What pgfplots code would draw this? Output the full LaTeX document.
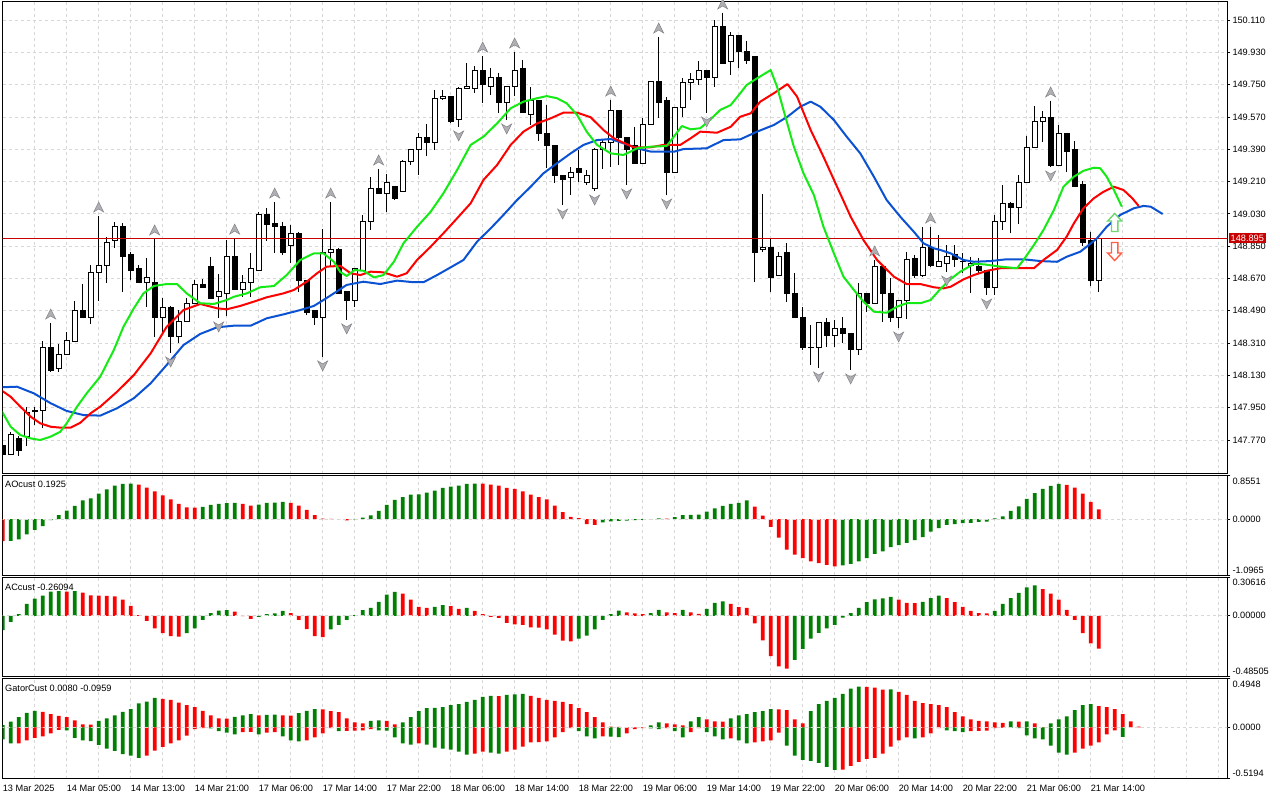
\documentclass[border=0pt]{standalone}
\usepackage{fontspec}
\setmainfont{Liberation Sans}
\usepackage{pgfplots}
\pgfplotsset{compat=1.18}
\usepgfplotslibrary{statistics}
\definecolor{jaw}{RGB}{10,82,210}
\definecolor{teeth}{RGB}{255,0,0}
\definecolor{lips}{RGB}{20,235,20}
\definecolor{histg}{RGB}{0,128,0}
\definecolor{histr}{RGB}{255,0,0}
\definecolor{gridc}{RGB}{215,215,215}
\definecolor{pricered}{RGB}{200,0,0}
\definecolor{fracfill}{RGB}{175,175,180}
\definecolor{fracdraw}{RGB}{130,130,135}
\newcommand{\tf}{\fontsize{9.2}{11}\selectfont}
\pgfdeclareplotmark{fracup}{%
 \pgfpathmoveto{\pgfqpoint{0pt}{5pt}}%
 \pgfpathlineto{\pgfqpoint{5pt}{-5pt}}%
 \pgfpathlineto{\pgfqpoint{0pt}{-2pt}}%
 \pgfpathlineto{\pgfqpoint{-5pt}{-5pt}}%
 \pgfpathclose\pgfusepathqfillstroke}
\pgfdeclareplotmark{fracdn}{%
 \pgfpathmoveto{\pgfqpoint{0pt}{-5pt}}%
 \pgfpathlineto{\pgfqpoint{5pt}{5pt}}%
 \pgfpathlineto{\pgfqpoint{0pt}{2pt}}%
 \pgfpathlineto{\pgfqpoint{-5pt}{5pt}}%
 \pgfpathclose\pgfusepathqfillstroke}
\pgfdeclareplotmark{sigup}{%
 \pgfpathmoveto{\pgfqpoint{0pt}{9pt}}%
 \pgfpathlineto{\pgfqpoint{7pt}{1.5pt}}%
 \pgfpathlineto{\pgfqpoint{3.2pt}{1.5pt}}%
 \pgfpathlineto{\pgfqpoint{3.2pt}{-9pt}}%
 \pgfpathlineto{\pgfqpoint{-3.2pt}{-9pt}}%
 \pgfpathlineto{\pgfqpoint{-3.2pt}{1.5pt}}%
 \pgfpathlineto{\pgfqpoint{-7pt}{1.5pt}}%
 \pgfpathclose\pgfusepathqfillstroke}
\pgfdeclareplotmark{sigdn}{%
 \pgfpathmoveto{\pgfqpoint{0pt}{-9pt}}%
 \pgfpathlineto{\pgfqpoint{7pt}{-1.5pt}}%
 \pgfpathlineto{\pgfqpoint{3.2pt}{-1.5pt}}%
 \pgfpathlineto{\pgfqpoint{3.2pt}{9pt}}%
 \pgfpathlineto{\pgfqpoint{-3.2pt}{9pt}}%
 \pgfpathlineto{\pgfqpoint{-3.2pt}{-1.5pt}}%
 \pgfpathlineto{\pgfqpoint{-7pt}{-1.5pt}}%
 \pgfpathclose\pgfusepathqfillstroke}
\pgfplotsset{
 mt/.style={
  scale only axis, anchor=north west, width=1224.8pt,
  xmin=-0.02, xmax=153.08,
  axis line style={black, line width=1pt},
  xtick={0,4,...,152}, xticklabels={}, xtick style={draw=none},
  xmajorgrids,
  grid style={gridc, dash pattern=on 3pt off 3pt, line width=0.8pt},
  ytick pos=right, yticklabel pos=right, tick align=outside,
  major tick length=3pt,
  ytick style={black, line width=0.8pt},
  yticklabel style={font=\tf, anchor=west, inner sep=0pt, xshift=2pt},
  clip=true,
 },
 gbar/.style={ybar, bar width=0.47, bar shift=0pt, draw=none, fill=histg},
 rbar/.style={ybar, bar width=0.47, bar shift=0pt, draw=none, fill=histr},
 zline/.style={gridc, dash pattern=on 3pt off 3pt, line width=0.8pt},
 bullc/.style={draw=black, fill=white, line width=1pt, solid},
 bearc/.style={draw=black, fill=black, line width=1pt, solid},
}
\newcommand{\cbu}[5]{\addplot[bullc, boxplot prepared={draw position=#1, lower whisker=#2, lower quartile=#3, median=#3, upper quartile=#4, upper whisker=#5}] coordinates {};}
\newcommand{\cbe}[5]{\addplot[bearc, boxplot prepared={draw position=#1, lower whisker=#2, lower quartile=#3, median=#3, upper quartile=#4, upper whisker=#5}] coordinates {};}
\begin{document}
\begin{tikzpicture}
\path[use as bounding box] (0,0) rectangle (1280pt,-800pt);
\fill[white] (0,0) rectangle (1280pt,-800pt);
% ================= MAIN PRICE PANEL =================
\begin{axis}[mt, at={(2.5pt,-1.5pt)}, height=472pt,
  ymin=147.5835, ymax=150.2130, ymajorgrids,
  ytick={147.77,147.95,148.13,148.31,148.49,148.67,148.85,149.03,149.21,149.39,149.57,149.75,149.93,150.11},
  yticklabels={147.770,147.950,148.130,148.310,148.490,148.670,148.850,149.030,149.210,149.390,149.570,149.750,149.930,150.110},
  boxplot/draw direction=y, boxplot/box extend=0.6, boxplot/whisker extend=0]
\cbe{0}{147.681}{147.687}{147.737}{147.753}
\cbu{1}{147.687}{147.692}{147.798}{147.815}
\cbe{2}{147.681}{147.709}{147.776}{147.792}
\cbu{3}{147.737}{147.787}{147.926}{147.954}
\cbu{4}{147.854}{147.930}{147.932}{147.954}
\cbu{5}{147.837}{147.932}{148.288}{148.321}
\cbe{6}{148.149}{148.160}{148.288}{148.422}
\cbu{7}{148.149}{148.166}{148.244}{148.305}
\cbu{8}{148.244}{148.244}{148.327}{148.372}
\cbu{9}{148.316}{148.321}{148.489}{148.545}
\cbe{10}{148.455}{148.455}{148.489}{148.639}
\cbu{11}{148.416}{148.455}{148.701}{148.745}
\cbu{12}{148.545}{148.701}{148.745}{149.018}
\cbu{13}{148.645}{148.745}{148.873}{148.901}
\cbu{14}{148.840}{148.879}{148.962}{148.985}
\cbe{15}{148.595}{148.790}{148.962}{148.979}
\cbe{16}{148.661}{148.717}{148.801}{148.817}
\cbe{17}{148.645}{148.645}{148.723}{148.745}
\cbu{18}{148.511}{148.650}{148.673}{148.784}
\cbe{19}{148.344}{148.450}{148.650}{148.890}
\cbu{20}{148.355}{148.455}{148.511}{148.561}
\cbe{21}{148.255}{148.344}{148.511}{148.517}
\cbu{22}{148.310}{148.349}{148.433}{148.494}
\cbu{23}{148.433}{148.433}{148.528}{148.561}
\cbu{24}{148.528}{148.528}{148.639}{148.661}
\cbe{25}{148.617}{148.617}{148.639}{148.667}
\cbe{26}{148.561}{148.561}{148.739}{148.790}
\cbu{27}{148.450}{148.567}{148.600}{148.695}
\cbu{28}{148.461}{148.589}{148.790}{148.884}
\cbe{29}{148.606}{148.606}{148.790}{148.895}
\cbu{30}{148.567}{148.606}{148.645}{148.689}
\cbu{31}{148.567}{148.645}{148.723}{148.812}
\cbu{32}{148.717}{148.717}{149.029}{149.040}
\cbe{33}{148.879}{148.968}{149.029}{149.063}
\cbe{34}{148.812}{148.957}{148.979}{149.096}
\cbe{35}{148.801}{148.817}{148.957}{148.985}
\cbu{36}{148.756}{148.851}{148.918}{148.968}
\cbe{37}{148.595}{148.656}{148.923}{148.929}
\cbe{38}{148.466}{148.483}{148.661}{148.661}
\cbe{39}{148.411}{148.450}{148.494}{148.494}
\cbu{40}{148.233}{148.450}{148.812}{148.946}
\cbu{41}{148.734}{148.812}{148.829}{149.096}
\cbe{42}{148.589}{148.589}{148.829}{148.840}
\cbe{43}{148.439}{148.550}{148.595}{148.595}
\cbu{44}{148.511}{148.550}{148.723}{148.728}
\cbu{45}{148.717}{148.717}{148.985}{149.024}
\cbu{46}{148.940}{148.985}{149.174}{149.235}
\cbe{47}{149.146}{149.146}{149.174}{149.280}
\cbu{48}{149.040}{149.146}{149.202}{149.252}
\cbe{49}{149.107}{149.118}{149.180}{149.180}
\cbu{50}{149.152}{149.152}{149.324}{149.330}
\cbu{51}{149.302}{149.319}{149.391}{149.391}
\cbu{52}{149.246}{149.391}{149.458}{149.480}
\cbe{53}{149.352}{149.425}{149.458}{149.530}
\cbu{54}{149.386}{149.425}{149.670}{149.720}
\cbu{55}{149.664}{149.670}{149.681}{149.720}
\cbe{56}{149.536}{149.547}{149.686}{149.686}
\cbu{57}{149.514}{149.553}{149.731}{149.737}
\cbu{58}{149.731}{149.731}{149.737}{149.870}
\cbu{59}{149.703}{149.731}{149.826}{149.854}
\cbe{60}{149.648}{149.748}{149.831}{149.909}
\cbu{61}{149.692}{149.742}{149.787}{149.843}
\cbe{62}{149.592}{149.648}{149.787}{149.815}
\cbu{63}{149.553}{149.648}{149.742}{149.742}
\cbu{64}{149.686}{149.737}{149.831}{149.932}
\cbe{65}{149.592}{149.592}{149.837}{149.887}
\cbu{66}{149.525}{149.586}{149.664}{149.737}
\cbe{67}{149.436}{149.480}{149.664}{149.664}
\cbe{68}{149.285}{149.413}{149.480}{149.636}
\cbe{69}{149.202}{149.241}{149.413}{149.413}
\cbe{70}{149.079}{149.224}{149.246}{149.246}
\cbu{71}{149.135}{149.235}{149.263}{149.291}
\cbe{72}{149.207}{149.263}{149.280}{149.386}
\cbu{73}{149.191}{149.207}{149.241}{149.274}
\cbu{74}{149.157}{149.174}{149.386}{149.397}
\cbu{75}{149.280}{149.386}{149.430}{149.441}
\cbu{76}{149.291}{149.430}{149.603}{149.664}
\cbe{77}{149.302}{149.458}{149.603}{149.603}
\cbe{78}{149.191}{149.386}{149.458}{149.458}
\cbe{79}{149.313}{149.313}{149.413}{149.514}
\cbu{80}{149.313}{149.313}{149.530}{149.564}
\cbu{81}{149.530}{149.530}{149.765}{149.765}
\cbe{82}{149.564}{149.653}{149.765}{150.015}
\cbe{83}{149.135}{149.263}{149.659}{149.681}
\cbu{84}{149.263}{149.263}{149.625}{149.625}
\cbu{85}{149.569}{149.625}{149.759}{149.787}
\cbu{86}{149.664}{149.759}{149.776}{149.815}
\cbu{87}{149.748}{149.776}{149.826}{149.882}
\cbe{88}{149.592}{149.787}{149.826}{149.831}
\cbu{89}{149.737}{149.787}{150.076}{150.110}
\cbe{90}{149.870}{149.870}{150.076}{150.149}
\cbu{91}{149.804}{149.876}{150.026}{150.043}
\cbe{92}{149.843}{149.932}{150.026}{150.026}
\cbe{93}{149.865}{149.882}{149.937}{149.993}
\cbe{94}{148.650}{148.817}{149.904}{149.904}
\cbu{95}{148.817}{148.829}{148.840}{149.141}
\cbe{96}{148.595}{148.678}{148.840}{148.895}
\cbu{97}{148.684}{148.684}{148.795}{148.817}
\cbe{98}{148.539}{148.584}{148.817}{148.868}
\cbe{99}{148.450}{148.450}{148.589}{148.701}
\cbe{100}{148.272}{148.288}{148.450}{148.511}
\cbe{101}{148.188}{148.286}{148.288}{148.411}
\cbu{102}{148.171}{148.288}{148.422}{148.422}
\cbe{103}{148.288}{148.355}{148.422}{148.450}
\cbu{104}{148.288}{148.355}{148.389}{148.439}
\cbe{105}{148.310}{148.361}{148.389}{148.455}
\cbe{106}{148.160}{148.272}{148.366}{148.366}
\cbu{107}{148.244}{148.272}{148.589}{148.645}
\cbe{108}{148.483}{148.533}{148.584}{148.584}
\cbu{109}{148.528}{148.533}{148.739}{148.773}
\cbe{110}{148.428}{148.589}{148.739}{148.739}
\cbe{111}{148.428}{148.450}{148.589}{148.673}
\cbu{112}{148.394}{148.450}{148.550}{148.550}
\cbu{113}{148.444}{148.550}{148.773}{148.817}
\cbe{114}{148.673}{148.689}{148.784}{148.801}
\cbu{115}{148.678}{148.689}{148.845}{148.957}
\cbe{116}{148.734}{148.745}{148.845}{148.957}
\cbu{117}{148.734}{148.739}{148.762}{148.912}
\cbu{118}{148.706}{148.756}{148.795}{148.856}
\cbe{119}{148.734}{148.778}{148.801}{148.856}
\cbu{120}{148.700}{148.762}{148.767}{148.812}
\cbu{121}{148.589}{148.745}{148.756}{148.790}
\cbe{122}{148.700}{148.712}{148.734}{148.784}
\cbe{123}{148.578}{148.617}{148.712}{148.717}
\cbu{124}{148.578}{148.617}{148.985}{149.024}
\cbu{125}{148.940}{148.990}{149.085}{149.191}
\cbe{126}{148.923}{149.068}{149.090}{149.096}
\cbu{127}{148.974}{149.068}{149.207}{149.246}
\cbu{128}{149.202}{149.207}{149.402}{149.464}
\cbu{129}{149.397}{149.402}{149.547}{149.631}
\cbu{130}{149.430}{149.542}{149.564}{149.603}
\cbe{131}{149.291}{149.297}{149.564}{149.659}
\cbu{132}{149.297}{149.297}{149.475}{149.525}
\cbe{133}{149.264}{149.375}{149.480}{149.480}
\cbe{134}{149.185}{149.185}{149.386}{149.436}
\cbe{135}{148.851}{148.873}{149.191}{149.213}
\cbe{136}{148.628}{148.656}{148.879}{148.929}
\cbu{137}{148.595}{148.656}{148.895}{148.895}
% current price line
\addplot[pricered, line width=0.8pt] coordinates {(-1,148.895) (160,148.895)};
% Alligator jaw (blue)
\addplot[jaw, line width=2pt, line join=round] coordinates {(-0.1,148.064)(1.8,148.067)(3.9,148.030)(6,147.975)(8,147.932)(10.1,147.909)(12.2,147.906)(14.3,147.947)(16.4,148.003)(18.5,148.086)(20.5,148.188)(22.6,148.299)(24.7,148.361)(26.8,148.398)(28.9,148.407)(31,148.407)(33,148.448)(35.1,148.470)(37.2,148.494)(38.9,148.517)(40.1,148.550)(41.4,148.587)(43,148.634)(45.1,148.652)(47.2,148.639)(49.3,148.658)(51.4,148.649)(52.6,148.649)(54.3,148.689)(56,148.732)(57.6,148.773)(59.3,148.875)(61,148.949)(62.6,149.024)(64.3,149.107)(66,149.181)(67.6,149.256)(69.3,149.312)(71,149.367)(72.6,149.414)(74.3,149.441)(76,149.447)(77.6,149.423)(79.3,149.395)(81,149.377)(83.9,149.376)(85.1,149.391)(88,149.395)(90.1,149.441)(92.2,149.445)(94.3,149.488)(96.4,149.525)(98.1,149.571)(99.7,149.627)(101,149.655)(102.2,149.627)(103.9,149.553)(105.5,149.460)(107.2,149.367)(108.9,149.237)(110.5,149.107)(112.2,149.014)(113.9,148.930)(115.1,148.866)(116.4,148.838)(117.2,148.829)(118.5,148.810)(120.1,148.773)(121.4,148.763)(123.5,148.767)(125.5,148.777)(127.6,148.777)(129.7,148.767)(131.8,148.763)(133,148.791)(134.7,148.819)(135.5,148.847)(136.8,148.894)(138,148.958)(139.7,149.024)(141.4,149.061)(142.6,149.074)(143.5,149.070)(145,149.029)};
% Alligator teeth (red)
\addplot[teeth, line width=2pt, line join=round] coordinates {(-0.1,148.045)(1,148.011)(2.2,147.956)(3.5,147.900)(4.7,147.863)(6,147.844)(7.2,147.839)(8.5,147.839)(9.7,147.866)(11,147.919)(12.2,147.956)(14.3,148.039)(16.4,148.132)(18.5,148.253)(20.5,148.401)(22.6,148.494)(24.7,148.528)(26.8,148.504)(28,148.498)(29.7,148.517)(31.4,148.541)(33,148.565)(35.1,148.587)(36.4,148.606)(38,148.652)(39.3,148.699)(40.5,148.736)(42.2,148.740)(43.5,148.699)(44.7,148.689)(46,148.708)(47.6,148.704)(49.3,148.680)(50.5,148.699)(51.8,148.773)(53.5,148.847)(55.1,148.922)(56.8,149.005)(58.5,149.089)(60.1,149.219)(61.8,149.302)(63.5,149.414)(65.1,149.488)(66.8,149.534)(68.5,149.562)(70.1,149.594)(71.8,149.594)(73.5,149.568)(75.1,149.497)(76.4,149.451)(77.6,149.426)(78.9,149.401)(81,149.401)(82.6,149.414)(84.7,149.414)(86,149.451)(87.2,149.488)(89.3,149.482)(91,149.515)(92.2,149.571)(93.5,149.590)(94.7,149.655)(96.4,149.702)(98.1,149.753)(99.3,149.683)(101,149.497)(102.6,149.348)(104.3,149.181)(106,149.014)(107.6,148.884)(109.3,148.773)(111.4,148.680)(113,148.639)(114.7,148.639)(116.4,148.621)(117.6,148.615)(118.5,148.624)(120.1,148.665)(121.4,148.689)(123.05,148.713)(124.7,148.727)(126.8,148.727)(128.9,148.727)(130.1,148.773)(131.8,148.829)(133,148.903)(133.9,148.977)(135.1,149.061)(136.4,149.117)(137.6,149.153)(138.9,149.181)(140.1,149.163)(141.2,149.117)(142,149.074)};
% Alligator lips (green)
\addplot[lips, line width=2pt, line join=round] coordinates {(-0.1,147.930)(1,147.844)(2.2,147.798)(3.5,147.779)(4.7,147.770)(6,147.789)(7.2,147.816)(8,147.863)(9.3,147.956)(10.5,148.030)(12.2,148.123)(13.9,148.272)(15.1,148.401)(16.4,148.504)(17.6,148.587)(18.9,148.628)(20.5,148.639)(21.8,148.639)(23,148.587)(24.7,148.532)(26.4,148.528)(28,148.550)(28.9,148.568)(30.5,148.587)(32.2,148.621)(33.9,148.628)(35.5,148.689)(37.2,148.773)(38.9,148.810)(40.1,148.810)(41.4,148.763)(42.2,148.706)(43,148.684)(44,148.717)(45.1,148.713)(46.4,148.676)(47.6,148.689)(48.9,148.763)(50.1,148.866)(51.8,148.958)(53.5,149.042)(55.1,149.145)(56.8,149.274)(58.5,149.414)(60.1,149.460)(61.8,149.534)(63.5,149.618)(65.1,149.655)(66.8,149.674)(68,149.686)(69.3,149.674)(70.5,149.646)(71.8,149.581)(73,149.488)(74.3,149.414)(76,149.367)(77.6,149.358)(79.3,149.395)(81,149.404)(83,149.408)(83.9,149.460)(84.9,149.519)(86,149.501)(87.2,149.507)(88.5,149.557)(89.7,149.609)(91,149.636)(92.2,149.702)(93,149.748)(94.3,149.785)(96,149.831)(96.8,149.738)(97.6,149.609)(98.9,149.404)(100.1,149.256)(101.4,149.135)(102.6,148.958)(103.9,148.810)(105.1,148.680)(106.4,148.606)(107.6,148.541)(108.9,148.485)(110.5,148.479)(111.8,148.513)(113,148.532)(114.7,148.532)(116,148.550)(117.2,148.611)(118.5,148.667)(119.7,148.708)(121.4,148.751)(122.6,148.749)(124.7,148.736)(126.8,148.727)(127.6,148.773)(128.9,148.856)(130.1,148.940)(131.4,149.051)(132.6,149.181)(133.9,149.237)(135.1,149.270)(136.4,149.287)(137.2,149.284)(138,149.237)(138.9,149.163)(139.9,149.070)};
% fractals up (at bar highs)
\addplot[only marks, mark=fracup, mark options={fill=fracfill, draw=fracdraw, line width=0.5pt, yshift=9pt}] coordinates {(6,148.422)(12,149.018)(19,148.890)(29,148.895)(34,149.096)(41,149.096)(47,149.280)(60,149.909)(64,149.932)(76,149.664)(82,150.015)(90,150.149)(109,148.773)(116,148.957)(131,149.659)};
% fractals down (at bar lows)
\addplot[only marks, mark=fracdn, mark options={fill=fracfill, draw=fracdraw, line width=0.5pt, yshift=-9pt}] coordinates {(21,148.255)(27,148.450)(40,148.233)(43,148.439)(57,149.514)(63,149.553)(70,149.079)(74,149.157)(78,149.191)(83,149.135)(88,149.592)(102,148.171)(106,148.160)(112,148.394)(118,148.706)(123,148.578)(131,149.291)};
% signal arrows
\addplot[only marks, mark=sigup, mark options={fill=white, draw={rgb,255:red,110;green,215;blue,110}, line width=1.4pt}] coordinates {(139,148.982)};
\addplot[only marks, mark=sigdn, mark options={fill=white, draw={rgb,255:red,255;green,95;blue,70}, line width=1.4pt}] coordinates {(139,148.820)};
\end{axis}
\node[fill=pricered, text=white, font=\tf, inner xsep=2pt, inner ysep=1.5pt, anchor=west] at (1228.5pt,-238.1pt) {148.895};
% ================= AO PANEL =================
\begin{axis}[mt, at={(2.5pt,-475.5pt)}, height=99.5pt,
  ymin=-1.0965, ymax=0.8551,
  ytick={-1.0965,0,0.8551},
  yticklabels={\raisebox{5pt}[\height][\depth]{-1.0965},0.0000,\raisebox{-5.5pt}[\height][\depth]{0.8551}}]
\addplot[gbar] coordinates {(1,-0.425)(2,-0.398)(3,-0.299)(4,-0.212)(5,-0.139)(6,-0.020)(7,0.080)(8,0.166)(9,0.259)(10,0.365)(11,0.405)(12,0.498)(13,0.584)(14,0.657)(15,0.690)(16,0.697)(25,0.239)(26,0.279)(27,0.299)(28,0.312)(29,0.319)(32,0.285)(33,0.319)(34,0.322)(35,0.339)(44,-0.007)(45,0.027)(46,0.073)(47,0.159)(48,0.279)(49,0.378)(50,0.431)(51,0.478)(52,0.485)(53,0.518)(54,0.558)(55,0.611)(56,0.637)(57,0.657)(58,0.690)(59,0.697)(75,-0.066)(76,-0.046)(77,-0.033)(78,-0.030)(79,-0.020)(80,-0.013)(81,-0.007)(82,0.013)(84,0.040)(85,0.080)(86,0.083)(87,0.086)(88,0.146)(89,0.212)(90,0.259)(91,0.299)(92,0.319)(93,0.365)(105,-0.909)(106,-0.876)(107,-0.830)(108,-0.763)(109,-0.684)(110,-0.631)(111,-0.551)(112,-0.511)(113,-0.465)(114,-0.412)(115,-0.352)(116,-0.246)(117,-0.179)(118,-0.113)(119,-0.100)(120,-0.080)(121,-0.073)(122,-0.053)(123,-0.050)(124,0.013)(125,0.053)(126,0.159)(127,0.252)(128,0.398)(129,0.511)(130,0.591)(131,0.651)(132,0.690)};
\addplot[rbar] coordinates {(0,-0.431)(17,0.677)(18,0.617)(19,0.544)(20,0.465)(21,0.385)(22,0.299)(23,0.232)(24,0.226)(30,0.299)(31,0.266)(36,0.319)(37,0.266)(38,0.179)(39,0.080)(40,0.007)(41,0.003)(42,-0.002)(43,-0.027)(60,0.694)(61,0.677)(62,0.657)(63,0.611)(64,0.591)(65,0.544)(66,0.478)(67,0.431)(68,0.385)(69,0.266)(70,0.139)(71,0.046)(72,0.020)(73,-0.100)(74,-0.113)(83,0.010)(94,0.246)(95,0.066)(96,-0.153)(97,-0.365)(98,-0.597)(99,-0.697)(100,-0.763)(101,-0.830)(102,-0.863)(103,-0.896)(104,-0.929)(133,0.670)(134,0.617)(135,0.498)(136,0.339)(137,0.1925)};
\addplot[zline] coordinates {(-1,0)(160,0)};
\end{axis}
\node[anchor=north west, font=\tf, inner sep=0pt] at (5pt,-481pt) {AOcust 0.1925};
% ================= AC PANEL =================
\begin{axis}[mt, at={(2.5pt,-577.3pt)}, height=99.4pt,
  ymin=-0.48505, ymax=0.30616,
  ytick={-0.48505,0,0.30616},
  yticklabels={\raisebox{5.4pt}[\height][\depth]{-0.48505},0.00000,\raisebox{-5pt}[\height][\depth]{0.30616}}]
\addplot[gbar] coordinates {(0,-0.114)(1,-0.049)(2,0.014)(3,0.095)(4,0.136)(5,0.160)(6,0.193)(7,0.196)(9,0.196)(23,-0.139)(24,-0.101)(25,-0.033)(26,0.022)(27,0.041)(28,0.044)(32,-0.008)(33,0.014)(34,0.019)(35,0.038)(41,-0.109)(42,-0.073)(43,-0.033)(44,0.005)(45,0.044)(46,0.063)(47,0.111)(48,0.169)(49,0.190)(54,0.071)(55,0.084)(58,0.063)(72,-0.182)(73,-0.158)(74,-0.109)(75,-0.033)(76,0.014)(77,0.041)(81,0.022)(82,0.046)(85,0.046)(88,0.054)(89,0.103)(90,0.114)(99,-0.351)(100,-0.264)(101,-0.182)(102,-0.136)(103,-0.101)(104,-0.073)(105,-0.014)(106,0.022)(107,0.063)(108,0.109)(109,0.131)(110,0.139)(111,0.150)(115,0.111)(116,0.141)(117,0.160)(124,0.038)(125,0.095)(126,0.141)(127,0.182)(128,0.226)(129,0.242)};
\addplot[rbar] coordinates {(8,0.193)(10,0.185)(11,0.163)(12,0.160)(13,0.158)(14,0.155)(15,0.128)(16,0.079)(17,0.005)(18,-0.041)(19,-0.101)(20,-0.139)(21,-0.163)(22,-0.166)(29,0.033)(30,-0.003)(31,-0.024)(36,0.022)(37,-0.033)(38,-0.106)(39,-0.163)(40,-0.171)(50,0.177)(51,0.128)(52,0.071)(53,0.063)(56,0.076)(57,0.054)(59,0.038)(60,0.014)(61,-0.008)(62,-0.016)(63,-0.057)(64,-0.068)(65,-0.073)(66,-0.092)(67,-0.095)(68,-0.109)(69,-0.150)(70,-0.198)(71,-0.204)(78,0.027)(79,0.019)(80,0.014)(83,0.027)(84,0.022)(86,0.027)(87,0.016)(91,0.095)(92,0.068)(93,0.063)(94,-0.060)(95,-0.196)(96,-0.321)(97,-0.402)(98,-0.421)(112,0.128)(113,0.103)(114,0.101)(118,0.141)(119,0.109)(120,0.071)(121,0.038)(122,0.022)(123,0.019)(130,0.212)(131,0.177)(132,0.128)(133,0.046)(134,-0.033)(135,-0.139)(136,-0.220)(137,-0.261)};
\addplot[zline] coordinates {(-1,0)(160,0)};
\end{axis}
\node[anchor=north west, font=\tf, inner sep=0pt] at (5pt,-583.5pt) {ACcust -0.26094};
% ================= GATOR PANEL =================
\begin{axis}[mt, at={(2.5pt,-678.7pt)}, height=100pt,
  ymin=-0.5194, ymax=0.4948,
  ytick={-0.5194,0,0.4948},
  yticklabels={\raisebox{5pt}[\height][\depth]{-0.5194},0.0000,\raisebox{-6pt}[\height][\depth]{0.4948}},
  extra x ticks={0,8,...,136},
  extra x tick labels={13 Mar 2025,14 Mar 05:00,14 Mar 13:00,14 Mar 21:00,17 Mar 06:00,17 Mar 14:00,17 Mar 22:00,18 Mar 06:00,18 Mar 14:00,18 Mar 22:00,19 Mar 06:00,19 Mar 14:00,19 Mar 22:00,20 Mar 06:00,20 Mar 14:00,20 Mar 22:00,21 Mar 06:00,21 Mar 14:00},
  extra x tick style={grid=none, tick style={draw=black, line width=0.8pt}, major tick length=4.5pt,
    xticklabel style={font=\tf, anchor=north west, inner sep=0pt, xshift=0pt, yshift=-1.5pt}}]
\addplot[gbar] coordinates {(0,0.024)(1,0.059)(2,0.104)(3,0.148)(4,0.169)(12,0.066)(13,0.093)(14,0.124)(15,0.159)(16,0.186)(17,0.245)(18,0.262)(19,0.300)(29,0.107)(30,0.124)(31,0.135)(33,0.128)(34,0.131)(37,0.145)(38,0.169)(39,0.186)(46,0.066)(47,0.072)(50,0.052)(51,0.104)(52,0.166)(53,0.197)(54,0.200)(55,0.207)(56,0.228)(57,0.238)(58,0.259)(59,0.279)(60,0.311)(61,0.321)(63,0.331)(64,0.335)(65,0.342)(81,0.021)(82,0.052)(86,0.062)(87,0.104)(91,0.093)(92,0.124)(93,0.135)(94,0.155)(95,0.166)(96,0.186)(101,0.166)(102,0.238)(103,0.269)(104,0.300)(105,0.342)(106,0.393)(107,0.414)(111,0.386)(126,0.062)(128,0.062)(131,0.041)(132,0.083)(133,0.114)(134,0.176)(135,0.228)(136,0.238)};
\addplot[rbar] coordinates {(5,0.159)(6,0.135)(7,0.117)(8,0.104)(9,0.072)(10,0.031)(11,0.028)(20,0.290)(21,0.279)(22,0.252)(23,0.228)(24,0.207)(25,0.169)(26,0.124)(27,0.093)(28,0.090)(32,0.124)(35,0.124)(36,0.121)(40,0.183)(41,0.166)(42,0.155)(43,0.093)(44,0.052)(45,0.041)(48,0.066)(49,0.031)(62,0.317)(66,0.321)(67,0.300)(68,0.279)(69,0.269)(70,0.259)(71,0.238)(72,0.197)(73,0.155)(74,0.104)(75,0.052)(76,0.010)(77,0.007)(78,0.004)(79,0.002)(80,0.001)(83,0.041)(84,0.031)(85,0.021)(88,0.083)(89,0.062)(90,0.059)(97,0.183)(98,0.176)(99,0.083)(100,0.041)(108,0.411)(109,0.404)(110,0.383)(112,0.362)(113,0.331)(114,0.269)(115,0.248)(116,0.238)(117,0.228)(118,0.207)(119,0.155)(120,0.114)(121,0.083)(122,0.066)(123,0.062)(124,0.052)(125,0.048)(127,0.059)(129,0.041)(130,0.003)(137,0.217)(138,0.207)(139,0.186)(140,0.135)(141,0.062)(142,0.008)};
\addplot[gbar] coordinates {(0,-0.121)(1,-0.162)(8,-0.028)(9,-0.104)(10,-0.131)(11,-0.138)(12,-0.176)(13,-0.214)(14,-0.238)(15,-0.269)(16,-0.286)(17,-0.307)(26,-0.010)(27,-0.038)(28,-0.052)(29,-0.069)(32,-0.069)(35,-0.090)(36,-0.131)(37,-0.141)(42,-0.038)(47,-0.028)(48,-0.031)(49,-0.100)(50,-0.162)(51,-0.173)(53,-0.173)(54,-0.204)(55,-0.214)(56,-0.224)(57,-0.245)(58,-0.276)(61,-0.255)(62,-0.266)(72,-0.038)(73,-0.090)(74,-0.110)(76,-0.093)(77,-0.097)(81,-0.010)(82,-0.017)(84,-0.038)(85,-0.100)(88,-0.048)(89,-0.090)(90,-0.121)(92,-0.131)(93,-0.162)(98,-0.183)(99,-0.286)(100,-0.328)(101,-0.338)(102,-0.359)(103,-0.400)(104,-0.431)(114,-0.110)(118,-0.028)(119,-0.038)(120,-0.048)(126,-0.005)(127,-0.007)(128,-0.079)(129,-0.110)(130,-0.121)(131,-0.183)(132,-0.255)(133,-0.276)(140,-0.0959)};
\addplot[rbar] coordinates {(2,-0.160)(3,-0.131)(4,-0.104)(5,-0.090)(6,-0.059)(7,-0.024)(18,-0.286)(19,-0.235)(20,-0.197)(21,-0.162)(22,-0.131)(23,-0.083)(24,-0.017)(25,-0.007)(30,-0.048)(31,-0.045)(33,-0.052)(34,-0.048)(38,-0.131)(39,-0.100)(40,-0.059)(41,-0.007)(43,-0.035)(44,-0.031)(45,-0.028)(46,-0.017)(52,-0.162)(59,-0.266)(60,-0.245)(63,-0.245)(64,-0.224)(65,-0.193)(66,-0.152)(67,-0.148)(68,-0.141)(69,-0.100)(70,-0.048)(71,-0.007)(75,-0.090)(78,-0.059)(79,-0.017)(80,-0.007)(83,-0.007)(86,-0.048)(87,-0.007)(91,-0.110)(94,-0.152)(95,-0.141)(96,-0.131)(97,-0.052)(105,-0.428)(106,-0.390)(107,-0.348)(108,-0.317)(109,-0.307)(110,-0.266)(111,-0.193)(112,-0.131)(113,-0.100)(115,-0.100)(116,-0.059)(117,-0.007)(121,-0.038)(122,-0.035)(123,-0.031)(124,-0.007)(125,-0.003)(134,-0.255)(135,-0.214)(136,-0.183)(137,-0.152)(138,-0.069)(139,-0.028)};
\addplot[zline] coordinates {(-1,0)(160,0)};
\end{axis}
\node[anchor=north west, font=\tf, inner sep=0pt] at (5pt,-685pt) {GatorCust 0.0080 -0.0959};
\end{tikzpicture}
\end{document}
